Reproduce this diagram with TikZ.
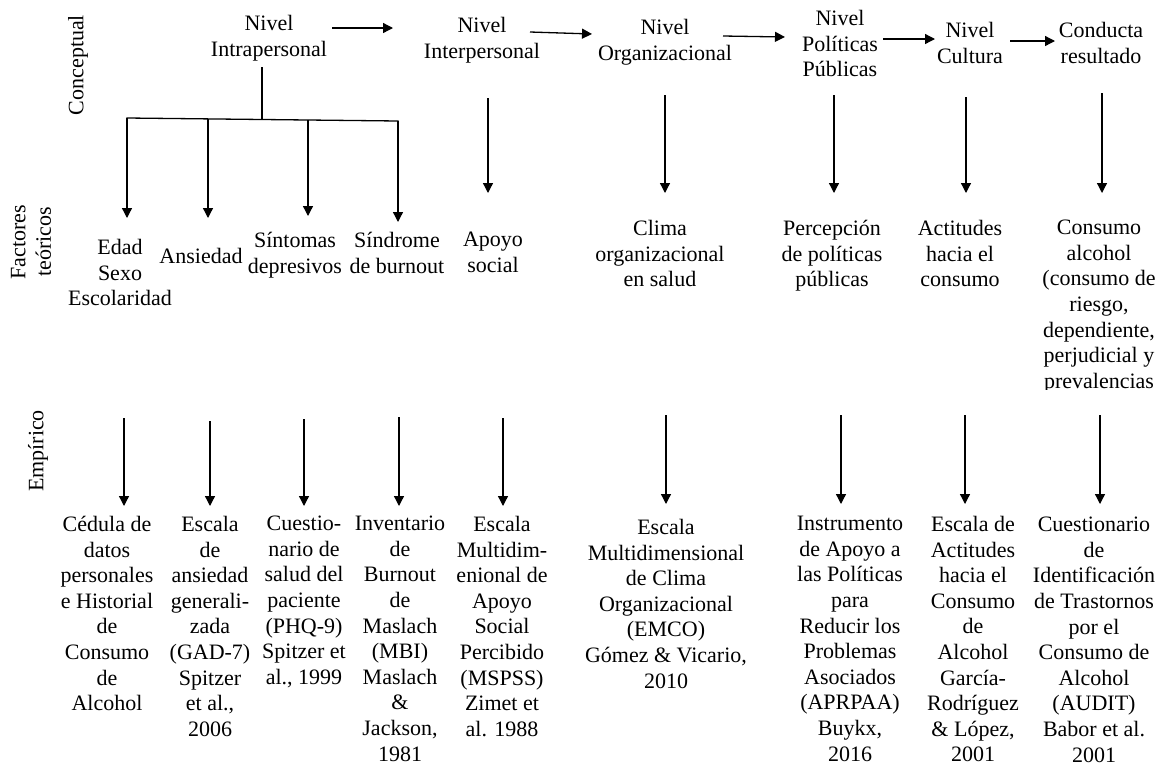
\documentclass[tikz,border=0pt]{standalone}
\usepackage{fontspec}
\setmainfont{Liberation Serif}
\usetikzlibrary{arrows.meta}
\begin{document}
\begin{tikzpicture}[x=1pt,y=-1pt,
  lbl/.style={anchor=north, inner sep=0pt, align=center, yshift=-4pt, font=\fontsize{22}{25.6}\selectfont, execute at begin node=\strut},
  side/.style={inner sep=0pt, align=center, rotate=90, font=\fontsize{22}{25.6}\selectfont},
  arr/.style={line width=1.3pt, -{Triangle[length=10pt,width=10pt]}},
  ln/.style={line width=1.3pt}]
\useasboundingbox[fill=white] (0,0) rectangle (1160,769);

% side labels
\node[side] (sc) at (78,65) {Conceptual};
\node[side] (sf) at (31,242) {Factores\\teóricos};
\node[side] (se) at (38,451) {Empírico};

% conceptual level
\node[lbl] (intra) at (269,11) {Nivel\\Intrapersonal};
\node[lbl] (inter) at (482,13) {Nivel\\Interpersonal};
\node[lbl] (org) at (665,15) {Nivel\\Organizacional};
\node[lbl] (pol) at (840,6) {Nivel\\Políticas\\Públicas};
\node[lbl] (cult) at (970,18) {Nivel\\Cultura};
\node[lbl] (cond) at (1101,18) {Conducta\\resultado};

% theoretical factors
\node[lbl] (edad) at (120,235) {Edad\\Sexo\\Escolaridad};
\node[lbl] (ans) at (201,241) {Ansiedad};
\node[lbl] (sint) at (295,228) {Síntomas\\depresivos};
\node[lbl] (sind) at (397,228) {Síndrome\\de burnout};
\node[lbl] (apoyo) at (493,228) {Apoyo\\social};
\node[lbl] (clima) at (660,216) {Clima\\organizacional\\en salud};
\node[lbl] (perc) at (832,216) {Percepción\\de políticas\\públicas};
\node[lbl] (act) at (960,216) {Actitudes\\hacia el\\consumo};
\begin{scope}
\clip (1020,200) rectangle (1160,389);
\node[lbl] (cons) at (1099,216) {Consumo\\alcohol\\(consumo de\\riesgo,\\dependiente,\\perjudicial y\\prevalencias};
\end{scope}

% empirical
\node[lbl] (ced) at (107,512) {Cédula de\\datos\\personales\\e Historial\\de\\Consumo\\de\\Alcohol};
\node[lbl] (gad) at (210,512) {Escala\\de\\ansiedad\\generali-\\zada\\(GAD-7)\\Spitzer\\et al.,\\2006};
\node[lbl] (phq) at (304,512) {Cuestio-\\nario de\\salud del\\paciente\\(PHQ-9)\\Spitzer et\\al., 1999};
\node[lbl] (mbi) at (400,512) {Inventario\\de\\Burnout\\de\\Maslach\\(MBI)\\Maslach\\\&\\Jackson,\\1981};
\node[lbl] (msp) at (502,512) {Escala\\Multidim-\\enional de\\Apoyo\\Social\\Percibido\\(MSPSS)\\Zimet et\\al. 1988};
\node[lbl] (emco) at (666,515) {Escala\\Multidimensional\\de Clima\\Organizacional\\(EMCO)\\Gómez \& Vicario,\\2010};
\node[lbl] (aprp) at (850,512) {Instrumento\\de Apoyo a\\las Políticas\\para\\Reducir los\\Problemas\\Asociados\\(APRPAA)\\Buykx,\\2016};
\node[lbl] (eac) at (973,512) {Escala de\\Actitudes\\hacia el\\Consumo\\de\\Alcohol\\García-\\Rodríguez\\\& López,\\2001};
\node[lbl] (aud) at (1094,513) {Cuestionario\\de\\Identificación\\de Trastornos\\por el\\Consumo de\\Alcohol\\(AUDIT)\\Babor et al.\\2001};

% connector end points
\coordinate (h1a) at (332,28);  \coordinate (h1b) at (393,28);
\coordinate (h2a) at (530,32);  \coordinate (h2b) at (592,34);
\coordinate (h3a) at (723,36);  \coordinate (h3b) at (785,37);
\coordinate (h4a) at (883,39);  \coordinate (h4b) at (935,39);
\coordinate (h5a) at (1010,41); \coordinate (h5b) at (1055,41);

\coordinate (tv) at (262,67); \coordinate (tj) at (262,119.5);
\coordinate (b1) at (127,118); \coordinate (b2) at (208,119);
\coordinate (b3) at (308,120); \coordinate (b4) at (398,121);
\coordinate (e1) at (127,218); \coordinate (e2) at (208,218);
\coordinate (e3) at (308,216); \coordinate (e4) at (398,222);

\coordinate (v1a) at (488,98);  \coordinate (v1b) at (488,193);
\coordinate (v2a) at (665,95);  \coordinate (v2b) at (665,193);
\coordinate (v3a) at (834,95);  \coordinate (v3b) at (834,193);
\coordinate (v4a) at (966,97);  \coordinate (v4b) at (966,193);
\coordinate (v5a) at (1102,93); \coordinate (v5b) at (1102,193);

\coordinate (w1a) at (124,418); \coordinate (w1b) at (124,506);
\coordinate (w2a) at (210,421); \coordinate (w2b) at (210,506);
\coordinate (w3a) at (304,419); \coordinate (w3b) at (304,506);
\coordinate (w4a) at (399,417); \coordinate (w4b) at (399,506);
\coordinate (w5a) at (503,418); \coordinate (w5b) at (503,506);
\coordinate (w6a) at (666,415); \coordinate (w6b) at (666,504);
\coordinate (w7a) at (841,415); \coordinate (w7b) at (841,504);
\coordinate (w8a) at (965,415); \coordinate (w8b) at (965,504);
\coordinate (w9a) at (1100,415); \coordinate (w9b) at (1100,504);

% horizontal flow
\draw[arr] (h1a) -- (h1b);
\draw[arr] (h2a) -- (h2b);
\draw[arr] (h3a) -- (h3b);
\draw[arr] (h4a) -- (h4b);
\draw[arr] (h5a) -- (h5b);

% intrapersonal tree
\draw[ln] (tv) -- (tj);
\draw[ln, line cap=rect] (b1) -- (b4);
\draw[arr] (b1) -- (e1);
\draw[arr] (b2) -- (e2);
\draw[arr] (b3) -- (e3);
\draw[arr] (b4) -- (e4);

% conceptual to factors
\draw[arr] (v1a) -- (v1b);
\draw[arr] (v2a) -- (v2b);
\draw[arr] (v3a) -- (v3b);
\draw[arr] (v4a) -- (v4b);
\draw[arr] (v5a) -- (v5b);

% factors to empirical
\draw[arr] (w1a) -- (w1b);
\draw[arr] (w2a) -- (w2b);
\draw[arr] (w3a) -- (w3b);
\draw[arr] (w4a) -- (w4b);
\draw[arr] (w5a) -- (w5b);
\draw[arr] (w6a) -- (w6b);
\draw[arr] (w7a) -- (w7b);
\draw[arr] (w8a) -- (w8b);
\draw[arr] (w9a) -- (w9b);
\end{tikzpicture}
\end{document}
